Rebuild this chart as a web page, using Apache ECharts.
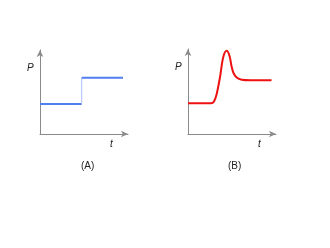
<!DOCTYPE html>
<html><head><meta charset="utf-8">
<script src="https://cdn.jsdelivr.net/npm/echarts@6/dist/echarts.min.js"></script>
<style>html,body{margin:0;padding:0;background:#fff}#c{width:330px;height:248px}</style>
</head><body><div id="c"></div>
<script>
// Panel A: step change in P over t
var stepLow = [[0, 3.57], [4.74, 3.57]];
var stepRise = [[4.74, 3.57], [4.74, 6.7]];
var stepHigh = [[4.74, 6.7], [9.43, 6.7]];
// Panel B: overshoot response
var respT = [0, 2.61, 2.95, 3.26, 3.64, 4.01, 4.40, 4.72, 4.94, 5.17, 5.53, 6.10, 7.05, 9.49];
var respP = [3.61, 3.61, 3.82, 4.71, 6.71, 9.06, 9.79, 9.18, 8.0, 7.18, 6.65, 6.38, 6.32, 6.32];
var panelLabels = ['(A)', '(B)'];
var axisNames = ['P', 't'];

var chart = echarts.init(document.getElementById('c'), null, {renderer: 'canvas'});
function axisCommon() {
  return {
    type: 'value', min: 0, max: 10,
    axisLine: {show: true, lineStyle: {color: '#8a8a8a', width: 1}, symbol: ['none', 'arrow'], symbolSize: [5, 7]},
    axisTick: {show: false}, axisLabel: {show: false}, splitLine: {show: false}
  };
}
var grids = [
  {left: 40, top: 50, width: 88, height: 84},
  {left: 188, top: 49, width: 88, height: 85}
];
var xAxes = [], yAxes = [];
for (var i = 0; i < 2; i++) {
  var xa = axisCommon(); xa.gridIndex = i; xAxes.push(xa);
  var ya = axisCommon(); ya.gridIndex = i; yAxes.push(ya);
}
var respData = respT.map(function (t, i) { return [t, respP[i]]; });
var txt = {fill: '#222', fontFamily: 'Liberation Sans, Arial, sans-serif', fontSize: 10};
chart.setOption({
  animation: false,
  grid: grids,
  xAxis: xAxes,
  yAxis: yAxes,
  series: [
    {type: 'line', xAxisIndex: 0, yAxisIndex: 0, data: stepLow, showSymbol: false, lineStyle: {color: '#4f7ff0', width: 2}},
    {type: 'line', xAxisIndex: 0, yAxisIndex: 0, data: stepRise, showSymbol: false, lineStyle: {color: '#a9c1f5', width: 1}},
    {type: 'line', xAxisIndex: 0, yAxisIndex: 0, data: stepHigh, showSymbol: false, lineStyle: {color: '#4f7ff0', width: 2}},
    {type: 'line', xAxisIndex: 1, yAxisIndex: 1, data: respData, showSymbol: false, smooth: 0.35, lineStyle: {color: '#ee1111', width: 2}}
  ],
  graphic: [
    {type: 'text', left: 27, top: 63, style: Object.assign({text: axisNames[0], fontStyle: 'italic'}, txt)},
    {type: 'text', left: 110, top: 139, style: Object.assign({text: axisNames[1], fontStyle: 'italic'}, txt)},
    {type: 'text', left: 175, top: 62, style: Object.assign({text: axisNames[0], fontStyle: 'italic'}, txt)},
    {type: 'text', left: 258, top: 139, style: Object.assign({text: axisNames[1], fontStyle: 'italic'}, txt)},
    {type: 'text', left: 81, top: 161, style: Object.assign({text: panelLabels[0]}, txt)},
    {type: 'text', left: 228, top: 161, style: Object.assign({text: panelLabels[1]}, txt)}
  ]
});
</script></body></html>
